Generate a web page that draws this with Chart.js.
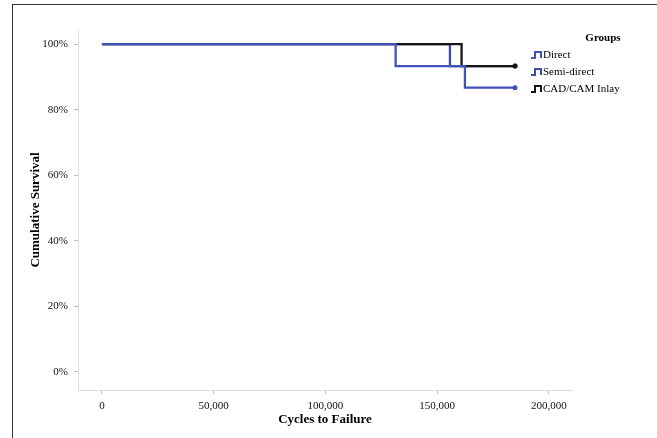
<!DOCTYPE html>
<html><head><meta charset="utf-8">
<script src="https://cdn.jsdelivr.net/npm/chart.js@4.4.1/dist/chart.umd.min.js"></script>
<style>
html,body{margin:0;padding:0;background:#fff;}
#wrap{position:relative;width:657px;height:438px;overflow:hidden;}
#frame{position:absolute;left:12px;top:4px;width:700px;height:500px;border-left:1px solid #333;border-top:1px solid #333;pointer-events:none;}
canvas{position:absolute;left:0;top:0;}
</style></head><body>
<div id="wrap"><canvas id="c" width="657" height="438"></canvas><div id="frame"></div></div>
<script>
// ---- data ----
const groups = ['Direct', 'Semi-direct', 'CAD/CAM Inlay'];
const directCycles = [0, 131400, 162400, 184800];
const directSurvival = [100, 93.3, 86.7, 86.7];
const semiCycles = [0, 155700, 184800];
const semiSurvival = [100, 93.3, 93.3];
const cadCycles = [0, 160900, 184800];
const cadSurvival = [100, 93.3, 93.3];
const xTicks = [0, 50000, 100000, 150000, 200000];
const yTicks = [0, 20, 40, 60, 80, 100];
const groupColors = ['#4252b8', '#3d4aa6', '#161616'];
const drawOrder = [0, 2, 1];

const toPts = (xs, ys) => xs.map((x, i) => ({x: x, y: ys[i]}));
const seriesData = [toPts(directCycles, directSurvival), toPts(semiCycles, semiSurvival), toPts(cadCycles, cadSurvival)];

const serif = "'Liberation Serif', 'DejaVu Serif', serif";

const legendPlugin = {
  id: 'kmLegend',
  afterDraw(chart) {
    const ctx = chart.ctx;
    ctx.save();
    ctx.fillStyle = '#000';
    ctx.font = 'bold 11px ' + serif;
    ctx.textAlign = 'center';
    ctx.textBaseline = 'middle';
    ctx.fillText('Groups', 603, 38);
    ctx.font = '11px ' + serif;
    ctx.textAlign = 'left';
    groups.forEach((g, i) => {
      const y = 55 + i * 17;
      ctx.strokeStyle = groupColors[i];
      ctx.lineWidth = 2;
      ctx.beginPath();
      ctx.moveTo(531, y + 3);
      ctx.lineTo(535, y + 3);
      ctx.lineTo(535, y - 3);
      ctx.lineTo(541, y - 3);
      ctx.lineTo(541, y + 3);
      ctx.stroke();
      ctx.fillStyle = '#000';
      ctx.fillText(g, 543, y);
    });
    ctx.restore();
  }
};

new Chart(document.getElementById('c'), {
  type: 'line',
  data: {
    datasets: groups.map((g, i) => ({
      label: g,
      data: seriesData[i],
      order: drawOrder[i],
      borderColor: groupColors[i],
      backgroundColor: groupColors[i],
      borderWidth: 2.3,
      stepped: 'before',
      fill: false,
      pointRadius: c => c.dataIndex === seriesData[i].length - 1 ? 2.5 : 0,
      pointHoverRadius: 0,
      pointBorderWidth: 0
    }))
  },
  options: {
    responsive: false,
    animation: false,
    devicePixelRatio: 1,
    layout: {padding: {left: 0, top: 30, right: 85, bottom: 0}},
    plugins: {legend: {display: false}, tooltip: {enabled: false}},
    scales: {
      x: {
        type: 'linear',
        min: -10700,
        max: 210300,
        afterFit: s => { s.height = 48; },
        afterBuildTicks: s => { s.ticks = xTicks.map(v => ({value: v})); },
        grid: {drawOnChartArea: false, drawTicks: true, tickLength: 4, color: '#bbb'},
        border: {color: '#ddd', width: 1},
        ticks: {
          color: '#111', padding: 6,
          font: {family: serif, size: 11},
          maxRotation: 0,
          callback: v => v.toLocaleString('en-US')
        },
        title: {display: true, text: 'Cycles to Failure', color: '#000', font: {family: serif, size: 13, weight: 'bold'}, padding: 11}
      },
      y: {
        type: 'linear',
        min: -5.5,
        max: 104.3,
        afterFit: s => { s.width = 78; },
        afterBuildTicks: s => { s.ticks = yTicks.map(v => ({value: v})); },
        grid: {drawOnChartArea: false, drawTicks: true, tickLength: 4, color: '#bbb'},
        border: {color: '#ddd', width: 1},
        ticks: {
          color: '#111', padding: 6,
          font: {family: serif, size: 11},
          callback: v => v + '%'
        },
        title: {display: true, text: 'Cumulative Survival', color: '#000', font: {family: serif, size: 13, weight: 'bold'}, padding: 28}
      }
    }
  },
  plugins: [legendPlugin]
});
</script>
</body></html>
